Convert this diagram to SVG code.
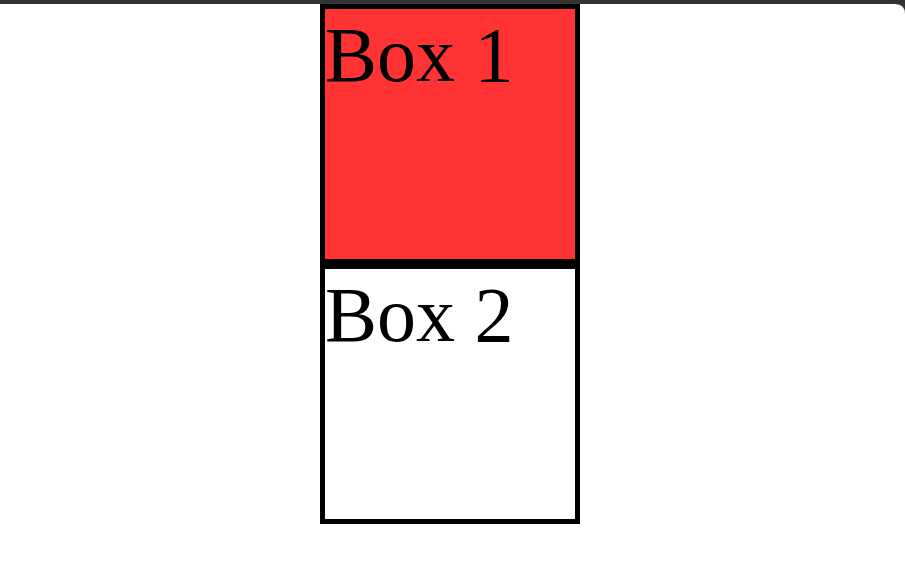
<svg xmlns="http://www.w3.org/2000/svg" width="905" height="588" viewBox="0 0 905 588">
<style>
.box{stroke:#000;stroke-width:5}
.lbl{font-family:"Liberation Serif","Times New Roman",serif;font-size:78px;fill:#000}
</style>
<rect x="0" y="0" width="905" height="588" fill="#ffffff"/>
<path d="M0 0H905V4H0Z" fill="#333333"/>
<path d="M895 4Q905 4 905 14V4Z" fill="#333333"/>
<g id="box1">
<rect class="box" x="322.5" y="6.5" width="255" height="255" fill="#ff3333"/>
<text class="lbl" x="325" y="81">Box 1</text>
</g>
<g id="box2">
<rect class="box" x="322.5" y="266.5" width="255" height="255" fill="#ffffff"/>
<text class="lbl" x="325" y="341">Box 2</text>
</g>
<g id="connectors"/>
</svg>
